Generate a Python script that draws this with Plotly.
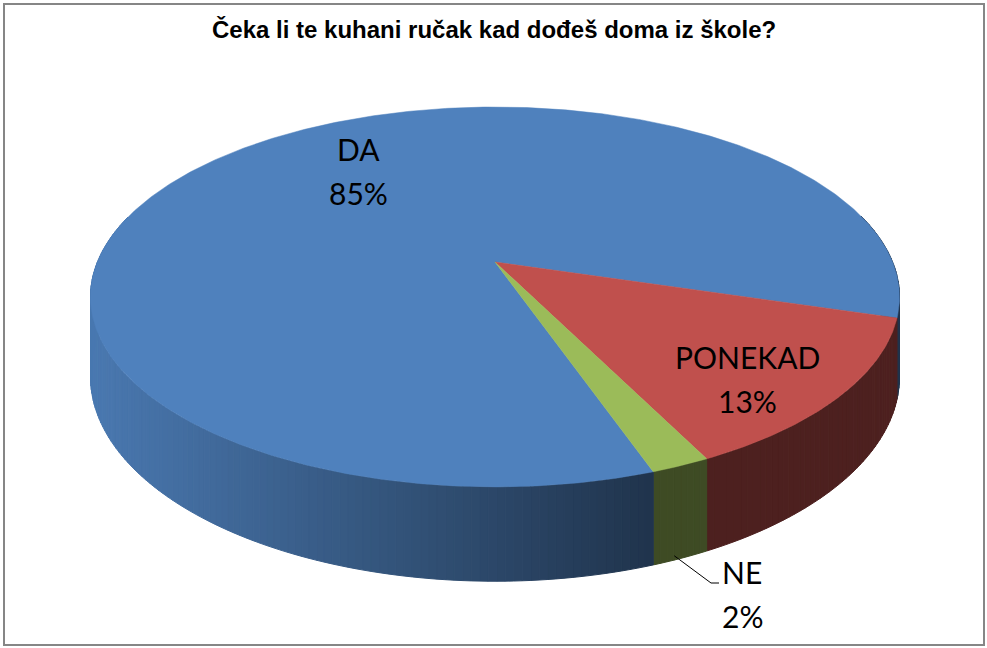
import numpy as np
import plotly.graph_objects as go

# ---- data ----
title = "Čeka li te kuhani ručak kad dođeš doma iz škole?"
labels = ["DA", "PONEKAD", "NE"]
percent = [85, 13, 2]
top_colors = ["#4f81bd", "#c0504d", "#9bbb59"]

# ---- 3D pie geometry (pixel space) ----
FIRST_ANGLE = 160.8      # where the first slice starts, clockwise from 12 o'clock
CX, CY = 495, 262        # centre of the top face
RX, RY = 397.6, 183.5    # radii of the top face
PERSP = 0.184            # perspective factor (front is bigger)
DEPTH = 77               # thickness of the pie

# label placement (centre x, y of first line, line gap)
LABEL_POS = {"DA": (358, 149), "PONEKAD": (747, 357), "NE": (742, 572)}
LINE_GAP = 44


def project(theta, r=1.0, h=0.0):
    t = np.radians(theta)
    u = r * np.sin(t)
    v = -r * np.cos(t)
    w = 1 - PERSP * v
    return CX + RX * u / w, CY + (RY * v + DEPTH * h) / w


def shade(hexcol, k):
    h = hexcol.lstrip("#")
    rgb = [int(h[i:i + 2], 16) for i in (0, 2, 4)]
    return "rgb({},{},{})".format(*[int(round(c * k)) for c in rgb])


def side_k(x):
    # lighter on the left, darker towards the front right
    k = 0.93 + (x - 95) * (0.40 - 0.93) / (655 - 95)
    return float(np.clip(k, 0.40, 0.93))


fig = go.Figure()

starts = FIRST_ANGLE + 3.6 * np.concatenate([[0], np.cumsum(percent)[:-1]])
ends = starts + 3.6 * np.array(percent)

# side strips, only the front part is visible
strips = []
for i in range(len(labels)):
    n = max(int(np.ceil(ends[i] - starts[i])), 2)
    th = np.linspace(starts[i], ends[i], n + 1)
    for a0, a1 in zip(th[:-1], th[1:]):
        mid = (a0 + a1) / 2 % 360
        if not (75 <= mid <= 285):
            continue
        xt0, yt0 = project(a0)
        xt1, yt1 = project(a1)
        xb1, yb1 = project(a1, h=1)
        xb0, yb0 = project(a0, h=1)
        v = -np.cos(np.radians(mid))
        col = shade(top_colors[i], side_k((xt0 + xt1) / 2))
        strips.append((v, [xt0, xt1, xb1, xb0, xt0], [yt0, yt1, yb1, yb0, yt0], col))

strips.sort(key=lambda s: s[0])
for v, xs, ys, col in strips:
    fig.add_trace(go.Scatter(
        x=xs, y=ys, mode="lines", fill="toself", fillcolor=col,
        line=dict(color=col, width=1), hoverinfo="skip", showlegend=False
    ))

# top faces
for i in range(len(labels)):
    th = np.linspace(starts[i], ends[i], int((ends[i] - starts[i]) * 2) + 2)
    px, py = project(th)
    xs = np.concatenate([[CX], px, [CX]])
    ys = np.concatenate([[CY], py, [CY]])
    fig.add_trace(go.Scatter(
        x=xs, y=ys, mode="lines", fill="toself", fillcolor=top_colors[i],
        line=dict(color=top_colors[i], width=0.5), hoverinfo="skip", showlegend=False
    ))

# data labels
for i, name in enumerate(labels):
    lx, ly = LABEL_POS[name]
    for j, txt in enumerate([name, f"{percent[i]}%"]):
        fig.add_annotation(
            x=lx, y=ly + j * LINE_GAP, text=txt, showarrow=False,
            xanchor="center", yanchor="middle",
            font=dict(family="Lato, Carlito, sans-serif", size=30, color="#000000")
        )

# leader line for the small slice
ne = labels.index("NE")
sx, sy = project((starts[ne] + ends[ne]) / 2, r=0.99, h=1)
lx, ly = LABEL_POS["NE"]
fig.add_trace(go.Scatter(
    x=[sx - 4, lx - 31, lx - 23], y=[sy, ly + 11, ly + 11], mode="lines",
    line=dict(color="#000000", width=1), hoverinfo="skip", showlegend=False
))

fig.add_annotation(
    x=494, y=29, text=f"<b>{title}</b>", showarrow=False,
    xanchor="center", yanchor="middle",
    font=dict(family="Arial, Liberation Sans, sans-serif", size=24, color="#000000")
)

# chart border
fig.add_shape(type="rect", x0=4, y0=4, x1=984, y1=645, xref="x", yref="y",
              line=dict(color="#868686", width=2))

fig.update_layout(
    width=987, height=648,
    margin=dict(l=0, r=0, t=0, b=0),
    paper_bgcolor="white", plot_bgcolor="white",
    xaxis=dict(range=[0, 987], visible=False, fixedrange=True),
    yaxis=dict(range=[648, 0], visible=False, fixedrange=True),
    showlegend=False
)

fig.write_html("out.html", config={"displayModeBar": False},
               post_script="document.body.style.margin='0';")
